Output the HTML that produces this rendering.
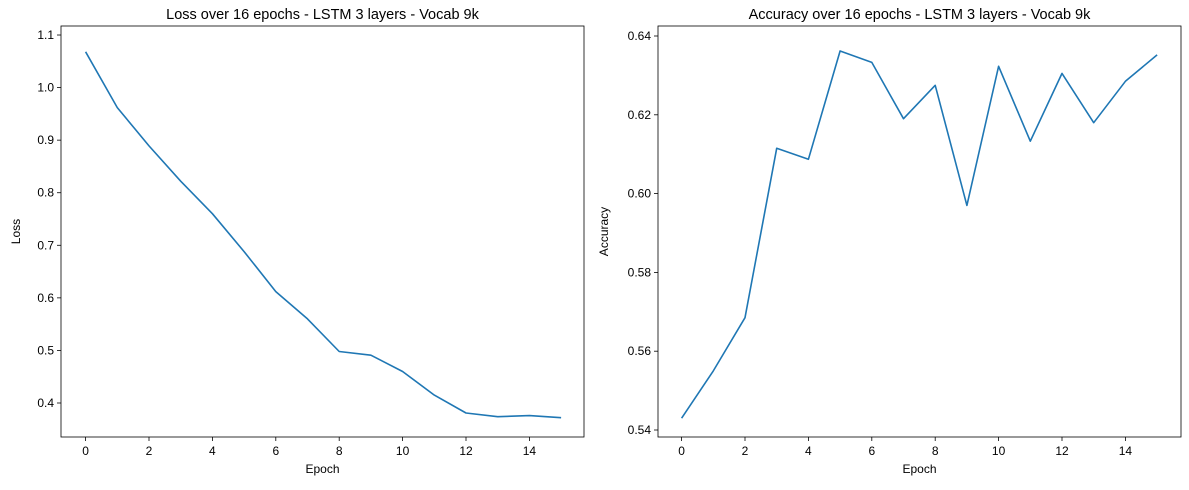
<!DOCTYPE html>
<html><head><meta charset="utf-8"><style>
body{margin:0;background:#fff;}
svg{display:block;font-family:"Liberation Sans","DejaVu Sans",sans-serif;}
</style></head><body>
<svg id="chart" width="1189" height="490" viewBox="0 0 1189 490"></svg>
<script>
const epochs=[0,1,2,3,4,5,6,7,8,9,10,11,12,13,14,15];
const lossValues=[1.068,0.962,0.889,0.822,0.760,0.688,0.612,0.560,0.498,0.491,0.460,0.415,0.381,0.374,0.376,0.372];
const accValues=[0.543,0.555,0.5685,0.6115,0.6087,0.6362,0.6333,0.619,0.6275,0.597,0.6323,0.6133,0.6305,0.618,0.6285,0.6352];
const xTicks=[0,2,4,6,8,10,12,14];
const lossTicks=[0.4,0.5,0.6,0.7,0.8,0.9,1.0,1.1];
const accTicks=[0.54,0.56,0.58,0.60,0.62,0.64];
const NS="http://www.w3.org/2000/svg";
const svg=document.getElementById('chart');
function mk(tag,attrs,parent){const e=document.createElementNS(NS,tag);for(const k in attrs)e.setAttribute(k,attrs[k]);(parent||svg).appendChild(e);return e;}
function panel(o){
 const g=mk('g',{});
 
 
 const X=v=>o.x0px+(v-0)*o.xs;
 const Y=v=>o.y0px-(v-o.y0v)*o.ys;
 xTicks.forEach(t=>{
  const x=X(t);
  mk('line',{x1:x,x2:x,y1:o.bottom,y2:o.bottom+4,stroke:'#000','stroke-width':0.8},g);
  const tx=mk('text',{x:x,y:o.bottom+18,'text-anchor':'middle','font-size':12},g);
  tx.textContent=t;
  
  
 });
 o.yticks.forEach(t=>{
  const y=Y(t);
  mk('line',{x1:o.left-4,x2:o.left,y1:y,y2:y,stroke:'#000','stroke-width':0.8},g);
  const tx=mk('text',{x:o.left-7,y:y+4,'text-anchor':'end','font-size':12},g);
  tx.textContent=t.toFixed(o.dec);
  
  
 });
 const pts=o.vals.map((v,i)=>X(epochs[i]).toFixed(1)+','+Y(v).toFixed(1)).join(' ');
 const line=mk('polyline',{points:pts,fill:'none',stroke:'#1f77b4','stroke-width':1.6,'stroke-linejoin':'round'},g);
 
 
 const fr=mk('rect',{x:o.left,y:o.top,width:o.right-o.left,height:o.bottom-o.top,fill:'none',stroke:'#000','stroke-width':0.8},g);
 
 
 const t=mk('text',{x:(o.left+o.right)/2,y:o.top-7,'text-anchor':'middle','font-size':14.5},g);
 t.textContent=o.title;
 
 
 const xl=mk('text',{x:(o.left+o.right)/2,y:o.bottom+36,'text-anchor':'middle','font-size':12},g);
 xl.textContent='Epoch';
 
 
 const yx=o.ylx, yy=(o.top+o.bottom)/2;
 const yl=mk('text',{x:yx,y:yy,'text-anchor':'middle','font-size':12,transform:`rotate(-90 ${yx} ${yy})`},g);
 yl.textContent=o.ylabel;
 
 
}
panel({name:'loss-panel',left:61,right:584,top:26,bottom:437,x0px:85.6,xs:31.7,y0px:403,y0v:0.4,ys:525.7,
 yticks:lossTicks,dec:1,vals:lossValues,title:'Loss over 16 epochs - LSTM 3 layers - Vocab 9k',ylabel:'Loss',ylx:20});
panel({name:'accuracy-panel',left:658,right:1181,top:26,bottom:437,x0px:681.6,xs:31.7,y0px:430,y0v:0.54,ys:3940,
 yticks:accTicks,dec:2,vals:accValues,title:'Accuracy over 16 epochs - LSTM 3 layers - Vocab 9k',ylabel:'Accuracy',ylx:608});
</script>
</body></html>
